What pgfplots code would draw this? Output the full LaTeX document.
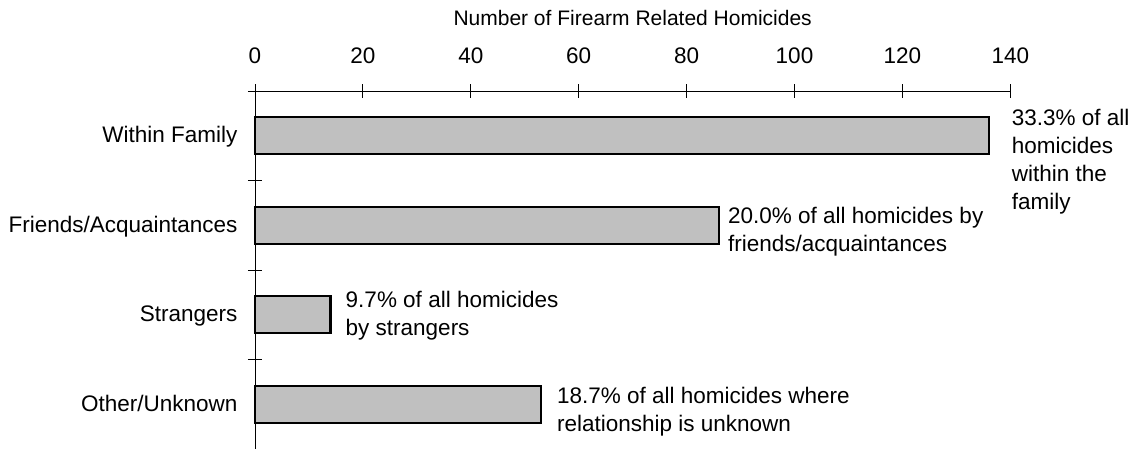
\documentclass[border=0pt]{standalone}
\usepackage{pgfplots}
\pgfplotsset{compat=1.18}
\usepackage{fontspec}
\setmainfont{Liberation Sans}
\definecolor{bargray}{RGB}{192,192,192}
\newcommand{\bigf}{\fontsize{22.5}{28}\selectfont}
\begin{document}
\begin{tikzpicture}[x=1pt,y=1pt]
\useasboundingbox (-255,1) rectangle (883,449);
\begin{axis}[
  at={(0,0)}, anchor=south west,
  scale only axis,
  width=755.3pt, height=358pt,
  xmin=0, xmax=140,
  ymin=-0.5, ymax=3.5,
  axis x line=top, axis y line=left,
  axis line style={-, line width=0.8pt},
  tick style={line width=0.8pt, black},
  tick align=center,
  major tick length=14pt,
  xtick={0,20,40,60,80,100,120,140},
  xticklabel style={yshift=16.5pt},
  ytick={-0.5,0.5,1.5,2.5,3.5},
  yticklabels={},
  extra y ticks={0,1,2,3},
  extra y tick labels={Other/Unknown,Strangers,Friends/Acquaintances,Within Family},
  extra y tick style={major tick length=0pt, yticklabel style={anchor=base east, yshift=-7pt, xshift=-14pt}},
  /pgf/number format/assume math mode=true,
  tick label style={font=\bigf},
  xlabel={Number of Firearm Related Homicides},
  x label style={at={(axis description cs:0.5,1)}, anchor=base, yshift=65.5pt, font=\fontsize{21}{25}\selectfont},
  clip=false,
]
\addplot[xbar, bar width=37pt, fill=bargray, draw=black, line width=2.4pt]
  coordinates {(53,0) (14,1) (86,2) (136,3)};
\node[anchor=base west, inner sep=0pt, font=\bigf, xshift=23pt, yshift=10.75pt] at (axis cs:136,3)
  {\begin{tabular}[t]{@{}l@{}}33.3\% of all\\homicides\\within the\\family\end{tabular}};
\node[anchor=base west, inner sep=0pt, font=\bigf, xshift=9pt, yshift=2.25pt] at (axis cs:86,2)
  {\begin{tabular}[t]{@{}l@{}}20.0\% of all homicides by\\friends/acquaintances\end{tabular}};
\node[anchor=base west, inner sep=0pt, font=\bigf, xshift=15pt, yshift=7.75pt] at (axis cs:14,1)
  {\begin{tabular}[t]{@{}l@{}}9.7\% of all homicides\\by strangers\end{tabular}};
\node[anchor=base west, inner sep=0pt, font=\bigf, xshift=16pt, yshift=1.25pt] at (axis cs:53,0)
  {\begin{tabular}[t]{@{}l@{}}18.7\% of all homicides where\\relationship is unknown\end{tabular}};
\end{axis}
\end{tikzpicture}
\end{document}
